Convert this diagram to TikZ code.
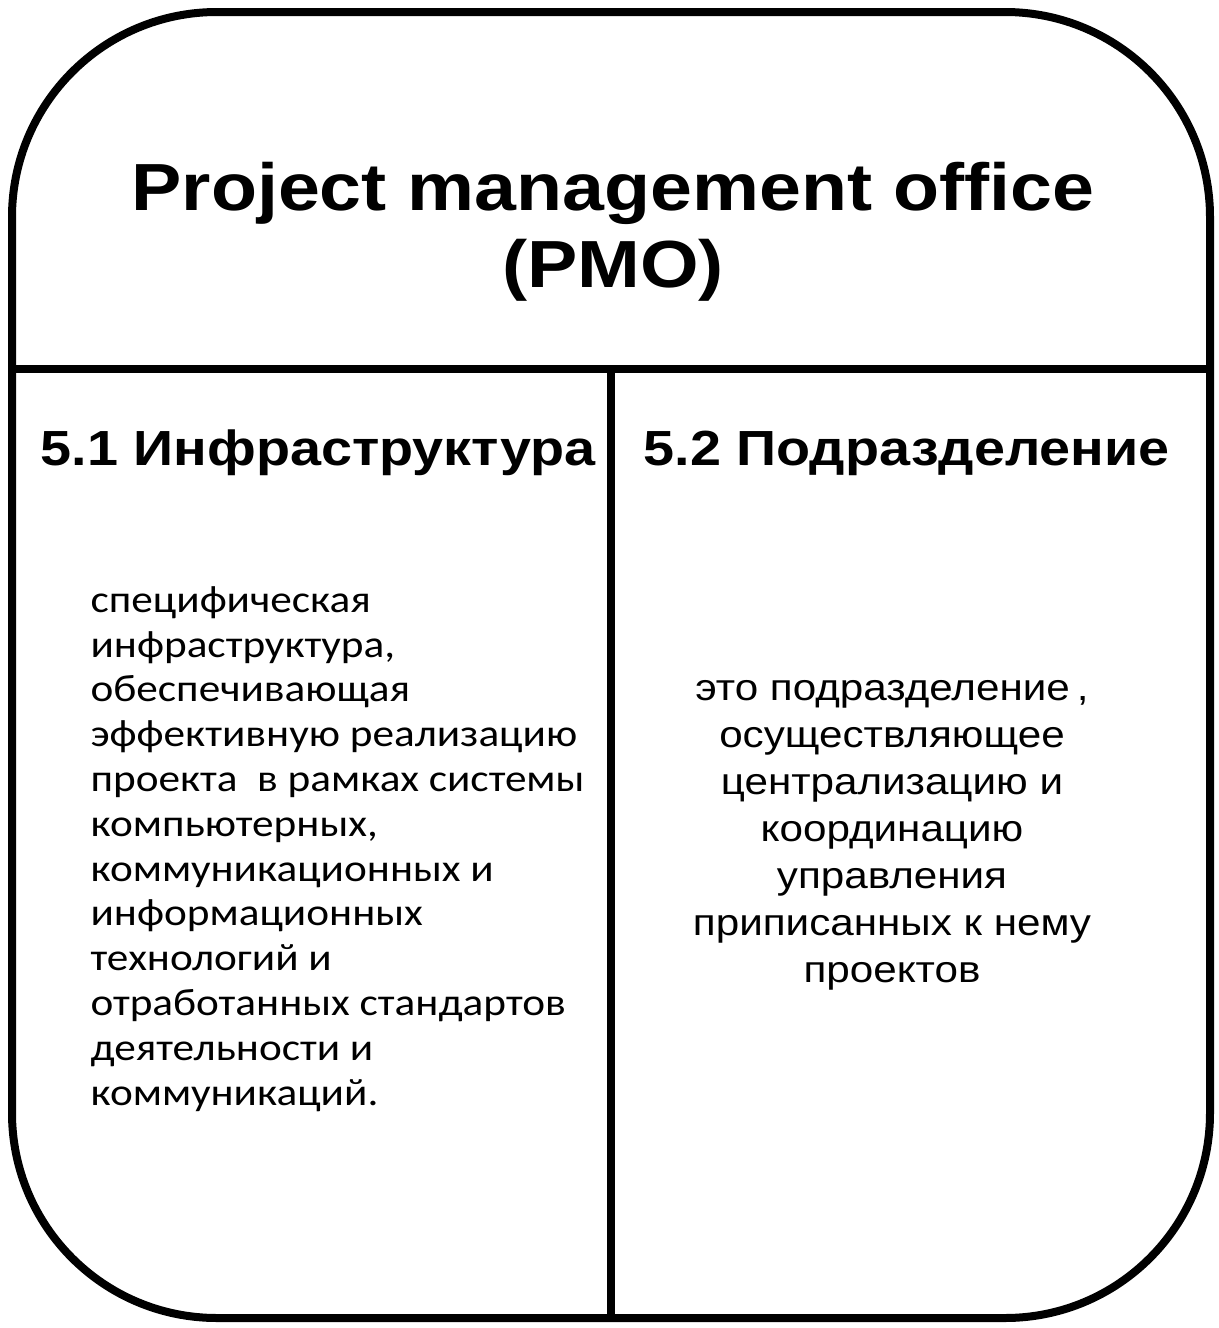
\documentclass[tikz,border=0pt]{standalone}
\usepackage{fontspec}
\setmainfont{Liberation Sans}
\newfontfamily\bodyfont{Carlito}
\tikzset{every picture/.style={line width=0.75pt}}
\tikzset{
  ttl/.style={inner sep=0pt, align=center, xscale=1.13, font=\fontsize{50}{57.5}\selectfont\bfseries},
  head/.style={inner sep=0pt, xscale=1.13, font=\fontsize{37}{40}\selectfont\bfseries},
  lefttext/.style={inner sep=0pt, align=left, xscale=1.13, font=\bodyfont\fontsize{28.7}{33.6}\selectfont},
  righttext/.style={inner sep=0pt, align=center, xscale=1.13, font=\fontsize{28}{35.25}\selectfont},
}

\begin{document}
\begin{tikzpicture}[x=0.75pt,y=0.75pt,yscale=-1,xscale=1]
\useasboundingbox (0,0) rectangle (1218,1328);

%Shape: Rounded Rectangle
\draw [line width=6pt, rounded corners=153.75pt] (12,12) rectangle (1210,1318);

%Straight Lines
\coordinate (hl) at (12,369);
\coordinate (hr) at (1210,369);
\coordinate (vt) at (611,369);
\coordinate (vb) at (611,1318);
\draw [line width=6pt] (hl) -- (hr);
\draw [line width=6pt] (vt) -- (vb);

% Text Node
\node [ttl] (title) at (613,232) {Project management office\\(PMO)};
% Text Node
\node [head, anchor=base west] (infra) at (40,465) {5.1 Инфраструктура};
% Text Node
\node [head, anchor=base west] (unit) at (643,465) {5.2 Подразделение};
% Text Node
\node [lefttext, anchor=north west] (infratext) at (90,586) {специфическая\\инфраструктура,\\обеспечивающая\\эффективную реализацию\\проекта\ \ в рамках системы\\компьютерных,\\коммуникационных и\\информационных\\технологий и\\отработанных стандартов\\деятельности и\\коммуникаций.};
% Text Node
\node [righttext, anchor=north] (unittext) at (892,680) {это подразделение\,,\\осуществляющее\\централизацию и\\координацию\\управления\\приписанных к нему\\проектов};

\end{tikzpicture}
\end{document}
